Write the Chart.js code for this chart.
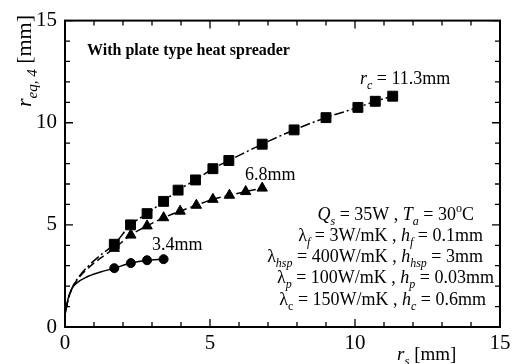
<!DOCTYPE html>
<html><head><meta charset="utf-8">
<script src="https://cdn.jsdelivr.net/npm/chart.js@4"></script>
<style>html,body{margin:0;padding:0;background:#fff}canvas{display:block}</style>
</head><body>
<canvas id="c" width="521" height="364"></canvas>
<script>
// ---- data ----
const sqX  = [1.7, 2.26, 2.83, 3.4, 3.9, 4.5, 5.1, 5.65, 6.8, 7.9, 9.0, 10.1, 10.7, 11.3];
const sqY  = [4.05, 5.0, 5.55, 6.15, 6.7, 7.2, 7.75, 8.15, 8.95, 9.65, 10.25, 10.75, 11.05, 11.3];
const triX = [1.7, 2.27, 2.83, 3.4, 3.97, 4.53, 5.1, 5.67, 6.23, 6.8];
const triY = [3.85, 4.5, 4.95, 5.35, 5.67, 5.96, 6.25, 6.45, 6.63, 6.8];
const cirX = [1.7, 2.27, 2.83, 3.4];
const cirY = [2.88, 3.13, 3.27, 3.32];
// model curves near the origin (before first marker)
const sqCurveX  = [0.03, 0.12, 0.28, 0.5, 0.85, 1.25];
const sqCurveY  = [0.85, 1.4, 2.0, 2.5, 3.05, 3.55];
const triCurveX = [0.03, 0.12, 0.28, 0.5, 0.85, 1.25];
const triCurveY = [0.85, 1.4, 2.0, 2.45, 2.95, 3.4];
const cirCurveX = [0.02, 0.1, 0.22, 0.4, 0.75, 1.2];
const cirCurveY = [0.7, 1.35, 1.85, 2.15, 2.45, 2.68];
const xTicks = [0, 5, 10, 15];
const yTicks = [0, 5, 10, 15];

const pts = (xs, ys) => xs.map((x, i) => ({x, y: ys[i]}));
const SERIF = '"Liberation Serif","Times New Roman",serif';

function drawRich(ctx, x, y, runs, size, align) {
  const fonts = runs.map(([t, s]) => {
    const it = s.includes('i') ? 'italic ' : '';
    const bd = s.includes('b') ? 'bold ' : '';
    const sub = s.includes('s') || s.includes('S');
    const sz = sub ? Math.round(size * 0.68) : size;
    return it + bd + sz + 'px ' + SERIF;
  });
  let w = 0;
  runs.forEach(([t], i) => { ctx.font = fonts[i]; w += ctx.measureText(t).width; });
  let cx = align === 'center' ? x - w / 2 : align === 'right' ? x - w : x;
  ctx.textBaseline = 'alphabetic';
  ctx.textAlign = 'left';
  runs.forEach(([t, s], i) => {
    ctx.font = fonts[i];
    let dy = 0;
    if (s.includes('s')) dy = size * 0.25;
    if (s.includes('S')) dy = -size * 0.42;
    ctx.fillText(t, cx, y + dy);
    cx += ctx.measureText(t).width;
  });
}

const deco = {
  id: 'deco',
  afterDraw(chart) {
    const ctx = chart.ctx, xs = chart.scales.x, ys = chart.scales.y;
    const a = chart.chartArea;
    ctx.save();
    ctx.strokeStyle = '#000'; ctx.fillStyle = '#000';
    // ticks
    ctx.lineWidth = 1.3;
    for (let v = 0; v <= 15; v++) {
      const L = v % 5 === 0 ? 8 : 5;
      const px = xs.getPixelForValue(v), py = ys.getPixelForValue(v);
      ctx.beginPath();
      ctx.moveTo(px, a.bottom); ctx.lineTo(px, a.bottom - L);
      ctx.moveTo(px, a.top); ctx.lineTo(px, a.top + L);
      ctx.moveTo(a.left, py); ctx.lineTo(a.left + L, py);
      ctx.moveTo(a.right, py); ctx.lineTo(a.right - L, py);
      ctx.stroke();
    }
    // frame
    ctx.lineWidth = 2;
    ctx.strokeRect(a.left, a.top, a.right - a.left, a.bottom - a.top);
    // annotations
    drawRich(ctx, 87, 55, [['With plate type heat spreader', 'b']], 16, 'left');
    drawRich(ctx, 360, 84, [['r', 'i'], ['c', 'is'], [' = 11.3mm', 'n']], 18, 'left');
    drawRich(ctx, 245, 180, [['6.8mm', 'n']], 18, 'left');
    drawRich(ctx, 152, 250, [['3.4mm', 'n']], 18, 'left');
    const P = 18;
    drawRich(ctx, 474, 220, [['Q', 'i'], ['s', 'is'], [' = 35W , ', 'n'], ['T', 'i'], ['a', 'is'], [' = 30', 'n'], ['o', 'S'], ['C', 'n']], P, 'right');
    drawRich(ctx, 483, 241, [['λ', 'n'], ['f', 'is'], [' = 3W/mK , ', 'n'], ['h', 'i'], ['f', 'is'], [' = 0.1mm', 'n']], P, 'right');
    drawRich(ctx, 483, 262, [['λ', 'n'], ['hsp', 'is'], [' = 400W/mK , ', 'n'], ['h', 'i'], ['hsp', 'is'], [' = 3mm', 'n']], P, 'right');
    drawRich(ctx, 494, 283, [['λ', 'n'], ['p', 'is'], [' = 100W/mK , ', 'n'], ['h', 'i'], ['p', 'is'], [' = 0.03mm', 'n']], P, 'right');
    drawRich(ctx, 486, 305, [['λ', 'n'], ['c', 's'], [' = 150W/mK , ', 'n'], ['h', 'i'], ['c', 'is'], [' = 0.6mm', 'n']], P, 'right');
    // axis titles
    drawRich(ctx, 397, 360, [['r', 'i'], ['s', 'is'], [' [mm]', 'n']], 19, 'left');
    ctx.translate(31, 61); ctx.rotate(-Math.PI / 2);
    drawRich(ctx, 0, 0, [['r', 'i'], ['eq, 4', 'is'], [' [mm]', 'n']], 22, 'center');
    ctx.restore();
  }
};

const lineDs = (xs, ys, dash) => ({
  type: 'line', data: pts(xs, ys), borderColor: '#000', borderWidth: 1.5,
  borderDash: dash, pointRadius: 0, fill: false, tension: 0.35, cubicInterpolationMode: 'monotone', order: 2
});
const markDs = (xs, ys, style, r) => ({
  type: 'scatter', data: pts(xs, ys), showLine: false, pointStyle: style,
  pointRadius: r, backgroundColor: '#000', borderColor: '#000', borderWidth: 1, order: 1
});

new Chart(document.getElementById('c'), {
  type: 'scatter',
  data: {
    datasets: [
      lineDs(sqCurveX.concat(sqX), sqCurveY.concat(sqY), [10, 3, 2, 3]),
      lineDs(triCurveX.concat(triX), triCurveY.concat(triY), [8, 4]),
      lineDs(cirCurveX.concat(cirX), cirCurveY.concat(cirY), []),
      markDs(sqX, sqY, 'rect', 7),
      markDs(triX, triY, 'triangle', 6),
      markDs(cirX, cirY, 'circle', 4.5)
    ]
  },
  options: {
    responsive: false, animation: false, devicePixelRatio: 1,
    layout: { padding: { left: 0, right: 21, top: 15, bottom: 0 } },
    plugins: { legend: { display: false }, tooltip: { enabled: false } },
    scales: {
      x: {
        type: 'linear', min: 0, max: 15,
        afterFit: s => { s.height = 37; },
        afterBuildTicks: s => { s.ticks = xTicks.map(v => ({value: v})); },
        grid: { display: false, drawTicks: false }, border: { display: false },
        ticks: { color: '#000', padding: 4, maxRotation: 0, autoSkip: false, font: { family: SERIF, size: 21 } }
      },
      y: {
        type: 'linear', min: 0, max: 15,
        afterFit: s => { s.width = 65; },
        afterBuildTicks: s => { s.ticks = yTicks.map(v => ({value: v})); },
        grid: { display: false, drawTicks: false }, border: { display: false },
        ticks: { color: '#000', padding: 8, autoSkip: false, font: { family: SERIF, size: 21 } }
      }
    }
  },
  plugins: [deco]
});
</script>
</body></html>
